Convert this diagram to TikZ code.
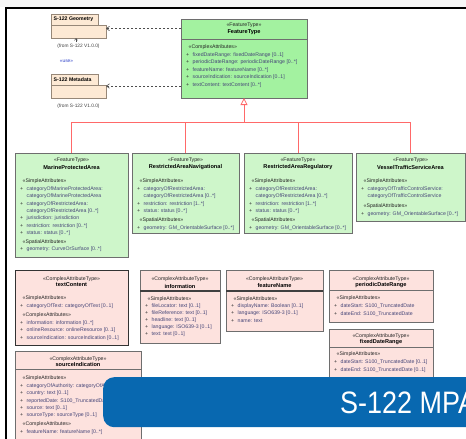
\documentclass[tikz,border=0pt]{standalone}
\usepackage{fontspec}
\setmainfont{Liberation Sans}
\usetikzlibrary{arrows.meta}
\definecolor{ftgreen}{RGB}{163,242,160}
\definecolor{subgreen}{RGB}{206,246,202}
\definecolor{pinkbox}{RGB}{253,226,222}
\definecolor{peach}{RGB}{253,233,212}
\definecolor{bordergray}{RGB}{110,110,110}
\definecolor{pkgborder}{RGB}{150,135,120}
\definecolor{attrcol}{RGB}{70,70,120}
\definecolor{genred}{RGB}{255,105,105}
\definecolor{bannerblue}{RGB}{8,104,176}
\definecolor{usecol}{RGB}{40,60,200}
\newcommand{\uattr}[1]{\makebox[6.5pt][l]{\textcolor{black!80}{+}}#1}
\newcommand{\ucont}[1]{\hspace*{6.5pt}#1}
\newcommand{\usec}[1]{\hspace*{2.5pt}\textcolor{black!85}{#1}}
\tikzset{
  umlbox/.style={draw=bordergray, line width=0.6pt, anchor=north west, inner sep=0pt, outer sep=0pt},
  stereo/.style={inner sep=0pt, font=\fontsize{5.2}{6}\selectfont, text=black!85},
  cname/.style={inner sep=0pt, font=\fontsize{5.6}{6}\selectfont\bfseries},
  attrs/.style={anchor=north west, inner sep=0pt, align=left, text=attrcol, font=\fontsize{5.2}{#1}\selectfont},
  attrs/.default=7.5,
  divider/.style={draw=bordergray, line width=0.5pt},
  thickdiv/.style={draw=black!75, line width=1.1pt},
  gen/.style={draw=genred, line width=0.8pt},
  dep/.style={draw=black!70, line width=0.6pt, dash pattern=on 2.5pt off 1.5pt, -{Straight Barb[length=3pt,width=4.5pt]}},
  pkg/.style={draw=pkgborder, fill=peach, line width=0.6pt, anchor=north west, inner sep=0pt, outer sep=0pt},
  fromtxt/.style={inner sep=0pt, font=\fontsize{4.8}{5}\selectfont, text=black!75},
}
\begin{document}
\begin{tikzpicture}[x=1pt,y=-1pt]
\useasboundingbox (0,0) rectangle (466,439);
\clip (0,0) rectangle (466,439);
\fill[white] (0,0) rectangle (466,439);
\fill[black!3] (0,0) rectangle (466,7);
\draw[line width=2pt] (6,460) -- (6,8) -- (480,8);

% packages
\node[pkg, minimum width=47pt, minimum height=11pt] (geotab) at (51,14) {};
\node[pkg, minimum width=55pt, minimum height=13pt] (geobody) at (51,25) {};
\node[anchor=west, inner sep=0pt, font=\fontsize{5.2}{6}\selectfont\bfseries] (geoname) at ([xshift=2.5pt]geotab.west) {S-122 Geometry};
\node[fromtxt] (geofrom) at (78.5,46) {(from S-122 V1.0.0)};
\node[pkg, minimum width=47pt, minimum height=11pt] (metatab) at (51,74) {};
\node[pkg, minimum width=55pt, minimum height=13pt] (metabody) at (51,85) {};
\node[anchor=west, inner sep=0pt, font=\fontsize{5.2}{6}\selectfont\bfseries] (metaname) at ([xshift=2.5pt]metatab.west) {S-122 Metadata};
\node[fromtxt] (metafrom) at (78.5,106) {(from S-122 V1.0.0)};
\node[inner sep=0pt, font=\fontsize{4.8}{5}\selectfont, text=usecol] (uselbl) at (66.5,61) {«use»};
\coordinate (usetail) at (76,42);
\draw[draw=black!70, line width=0.5pt, -{Straight Barb[length=2pt,width=3pt]}] (usetail) -- (usetail |- geobody.south);

% FeatureType
\node[umlbox, fill=ftgreen, minimum width=126pt, minimum height=79pt] (ft) at (181,19) {};
\node[stereo] (fts) at (244,25) {«FeatureType»};
\node[cname] (ftn) at (244,32.5) {FeatureType};
\draw[divider] ([yshift=-20pt]ft.north west) -- ([yshift=-20pt]ft.north east);
\node[attrs=7.6] (fta) at (186,44.5) {\usec{«ComplexAttributes»}\\
\uattr{fixedDateRange: fixedDateRange [0..1]}\\
\uattr{periodicDateRange: periodicDateRange [0..*]}\\
\uattr{featureName: featureName [0..*]}\\
\uattr{sourceIndication: sourceIndication [0..1]}\\
\uattr{textContent: textContent [0..*]}};

% subclasses
\node[umlbox, fill=subgreen, minimum width=113pt, minimum height=104pt] (b1) at (15,153) {};
\node[stereo] (b1s) at (71.5,160) {«FeatureType»};
\node[cname] (b1n) at (71.5,167) {MarineProtectedArea};
\node[attrs=7.4] (b1a) at (20,179) {\usec{«SimpleAttributes»}\\
\uattr{categoryOfMarineProtectedArea:}\\
\ucont{categoryOfMarineProtectedArea}\\
\uattr{categoryOfRestrictedArea:}\\
\ucont{categoryOfRestrictedArea [0..*]}\\
\uattr{jurisdiction: jurisdiction}\\
\uattr{restriction: restriction [0..*]}\\
\uattr{status: status [0..*]}\\[1pt]
\usec{«SpatialAttributes»}\\
\uattr{geometry: CurveOrSurface [0..*]}};

\node[umlbox, fill=subgreen, minimum width=107pt, minimum height=80pt] (b2) at (132,153) {};
\node[stereo] (b2s) at (185.5,160) {«FeatureType»};
\node[cname] (b2n) at (185.5,167) {RestrictedAreaNavigational};
\node[attrs=7.4] (b2a) at (137,179) {\usec{«SimpleAttributes»}\\
\uattr{categoryOfRestrictedArea:}\\
\ucont{categoryOfRestrictedArea [0..*]}\\
\uattr{restriction: restriction [1..*]}\\
\uattr{status: status [0..*]}\\[2pt]
\usec{«SpatialAttributes»}\\
\uattr{geometry: GM\_OrientableSurface [0..*]}};

\node[umlbox, fill=subgreen, minimum width=108pt, minimum height=80pt] (b3) at (244,153) {};
\node[stereo] (b3s) at (298,160) {«FeatureType»};
\node[cname] (b3n) at (298,167) {RestrictedAreaRegulatory};
\node[attrs=7.4] (b3a) at (249,179) {\usec{«SimpleAttributes»}\\
\uattr{categoryOfRestrictedArea:}\\
\ucont{categoryOfRestrictedArea [0..*]}\\
\uattr{restriction: restriction [1..*]}\\
\uattr{status: status [0..*]}\\[2pt]
\usec{«SpatialAttributes»}\\
\uattr{geometry: GM\_OrientableSurface [0..*]}};

\node[umlbox, fill=subgreen, minimum width=109pt, minimum height=68pt] (b4) at (356,153) {};
\node[stereo] (b4s) at (410.5,160) {«FeatureType»};
\node[cname] (b4n) at (410.5,167) {VesselTrafficServiceArea};
\node[attrs=7.4] (b4a) at (361,179) {\usec{«SimpleAttributes»}\\
\uattr{categoryOfTrafficControlService:}\\
\ucont{categoryOfTrafficControlService}\\[2.5pt]
\usec{«SpatialAttributes»}\\
\uattr{geometry: GM\_OrientableSurface [0..*]}};

% generalization
\coordinate (bus) at (244,122);
\draw[gen] (b1.north) |- (bus);
\draw[gen] (b2.north) |- (bus);
\draw[gen] (b3.north) |- (bus);
\draw[gen] (b4.north) |- (bus);
\draw[gen, -{Triangle[open, length=7pt, width=7pt]}] (bus) -- (ft.south);

% dependencies
\coordinate (g1) at ([yshift=-3.5pt]geobody.north east);
\coordinate (g2) at ([yshift=-1pt]metabody.north east);
\draw[dep] (ft.west |- g1) -- (g1);
\draw[dep] (ft.west |- g2) -- (g2);

% complex attribute types
\node[umlbox, draw=black!80, line width=0.9pt, fill=pinkbox, minimum width=113pt, minimum height=75pt] (ca) at (15,270) {};
\node[stereo] (cas) at (71.5,279) {«ComplexAttributeType»};
\node[cname] (can) at (71.5,284.5) {textContent};
\node[attrs=7.5] (caa) at (20,296) {\usec{«SimpleAttributes»}\\
\uattr{categoryOfText: categoryOfText [0..1]}\\[2pt]
\usec{«ComplexAttributes»}\\
\uattr{information: information [0..*]}\\
\uattr{onlineResource: onlineResource [0..1]}\\
\uattr{sourceIndication: sourceIndication [0..1]}};

\node[umlbox, fill=pinkbox, minimum width=80pt, minimum height=73pt] (cb) at (140,270) {};
\node[stereo] (cbs) at (180,279) {«ComplexAttributeType»};
\node[cname] (cbn) at (180,286) {information};
\draw[thickdiv] ([yshift=-21pt]cb.north west) -- ([yshift=-21pt]cb.north east);
\node[attrs=7.0] (cba) at (145,297) {\usec{«SimpleAttributes»}\\
\uattr{fileLocator: text [0..1]}\\
\uattr{fileReference: text [0..1]}\\
\uattr{headline: text [0..1]}\\
\uattr{language: ISO639-3 [0..1]}\\
\uattr{text: text [0..1]}};

\node[umlbox, fill=pinkbox, minimum width=97pt, minimum height=61pt] (cc) at (226,270) {};
\node[stereo] (ccs) at (274.5,279) {«ComplexAttributeType»};
\node[cname] (ccn) at (274.5,285.5) {featureName};
\draw[thickdiv] ([yshift=-21pt]cc.north west) -- ([yshift=-21pt]cc.north east);
\node[attrs=7.2] (cca) at (231,296.5) {\usec{«SimpleAttributes»}\\
\uattr{displayName: Boolean [0..1]}\\
\uattr{language: ISO639-3 [0..1]}\\
\uattr{name: text}};

\node[umlbox, fill=pinkbox, minimum width=104pt, minimum height=52pt] (cd) at (329,270) {};
\node[stereo] (cds) at (381,279) {«ComplexAttributeType»};
\node[cname] (cdn) at (381,285) {periodicDateRange};
\draw[divider] ([yshift=-20pt]cd.north west) -- ([yshift=-20pt]cd.north east);
\node[attrs=7.6] (cda) at (334,296) {\usec{«SimpleAttributes»}\\
\uattr{dateStart: S100\_TruncatedDate}\\
\uattr{dateEnd: S100\_TruncatedDate}};

\node[umlbox, fill=pinkbox, minimum width=104pt, minimum height=60pt] (ce) at (329,329) {};
\node[stereo] (ces) at (381,336) {«ComplexAttributeType»};
\node[cname] (cen) at (381,342) {fixedDateRange};
\draw[divider] ([yshift=-18pt]ce.north west) -- ([yshift=-18pt]ce.north east);
\node[attrs=7.6] (cea) at (334,352) {\usec{«SimpleAttributes»}\\
\uattr{dateStart: S100\_TruncatedDate [0..1]}\\
\uattr{dateEnd: S100\_TruncatedDate [0..1]}};

\node[umlbox, fill=pinkbox, minimum width=126pt, minimum height=100pt] (cf) at (15,351) {};
\node[stereo] (cfs) at (78,359) {«ComplexAttributeType»};
\node[cname] (cfn) at (78,364.5) {sourceIndication};
\draw[divider] ([yshift=-18pt]cf.north west) -- ([yshift=-18pt]cf.north east);
\node[attrs=7.4] (cfa) at (20,376) {\usec{«SimpleAttributes»}\\
\uattr{categoryOfAuthority: categoryOfAuthority [0..1]}\\
\uattr{country: text [0..1]}\\
\uattr{reportedDate: S100\_TruncatedDate [0..1]}\\
\uattr{source: text [0..1]}\\
\uattr{sourceType: sourceType [0..1]}\\[1.5pt]
\usec{«ComplexAttributes»}\\
\uattr{featureName: featureName [0..*]}};

% banner
\node[fill=bannerblue, rounded corners=11pt, anchor=north west, inner sep=0pt, minimum width=420pt, minimum height=50pt] (bannerbox) at (103,377) {};
\node[anchor=base west, inner sep=0pt, text=white, font=\fontsize{31}{31}\selectfont] (bannertxt) at (340,413) {\scalebox{0.87}[1]{S-122 MPA}};
\end{tikzpicture}
\end{document}
